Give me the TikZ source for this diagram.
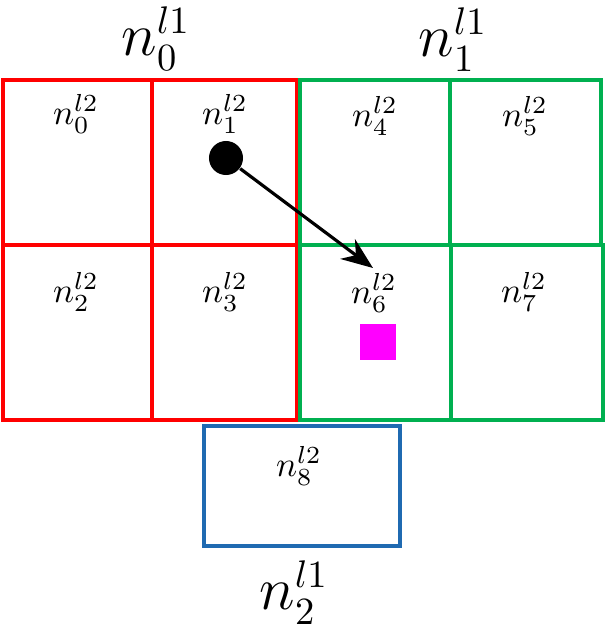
\documentclass[tikz,border=0pt]{standalone}
\usepackage{amsmath}
\usepackage{xcolor}
\usepackage{tikz}
\usetikzlibrary{arrows.meta}

\definecolor{boxred}{RGB}{255,0,0}
\definecolor{boxgreen}{RGB}{0,176,80}
\definecolor{boxblue}{RGB}{31,106,177}
\definecolor{markmagenta}{RGB}{255,0,255}

\begin{document}
\begin{tikzpicture}[x=0.01cm, y=-0.01cm,
    cellbox/.style={line width=1.1pt},
    small lab/.style={inner sep=0pt, font=\normalsize},
    big lab/.style={inner sep=0pt, font=\fontsize{16}{19}\selectfont}]
    			\useasboundingbox (0,0) rectangle (605,630);
    			
    			% red group
    			\foreach \xa/\ya/\xb/\yb in {
    				3/80/152/245,
    				152/80/297/245,
    				3/245/152/420,
    				152/245/297/420
    			}{
    				\draw[cellbox, boxred] (\xa,\ya) rectangle (\xb,\yb);
    			}
    			% green group
    			\foreach \xa/\ya/\xb/\yb in {
    				300/80/450/245,
    				450/80/601/245,
    				300/245/451/420,
    				451/245/603/420
    			}{
    				\draw[cellbox, boxgreen] (\xa,\ya) rectangle (\xb,\yb);
    			}
    			% blue group
    			\draw[cellbox, boxblue] (204,426) rectangle (400,546);
    			
    			\foreach \x/\y/\i in {
    				76/114/0, 225/114/1, 375/116/4, 525/116/5,
    				76/292/2, 225/292/3, 374/293/6, 524/292/7,
    				299/466/8
    			}{
    				\node[small lab] (c\i) at (\x,\y) {$n_{\i}^{l2}$};
    			}
    			
    			\node[big lab] (g0) at (156,39) {$n_0^{l1}$};
    			\node[big lab] (g1) at (453,40) {$n_1^{l1}$};
    			\node[big lab] (g2) at (294,593) {$n_2^{l1}$};
    			
    			\node[circle, fill=black, minimum size=0.34cm, inner sep=0pt] (dot) at (226,158) {};
    			\fill[markmagenta] (360,324) rectangle (396,360);
    			\coordinate (tip) at (373,268);
    			\draw[line width=0.9pt, -{Stealth[length=9pt,width=7pt]}] (dot) -- (tip);
    		\end{tikzpicture}
\end{document}
